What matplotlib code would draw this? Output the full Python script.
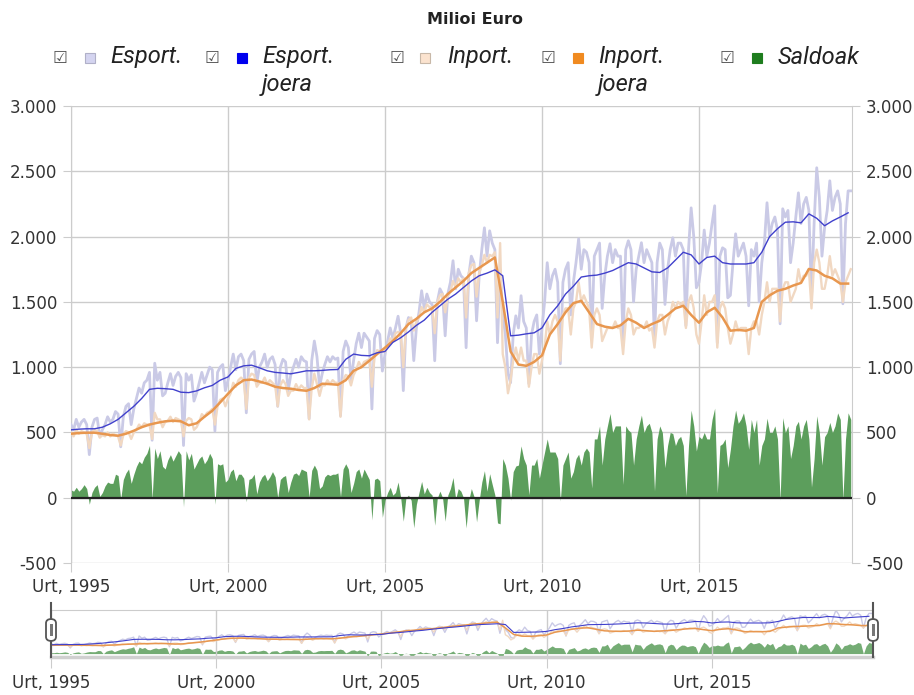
import numpy as np
import matplotlib.pyplot as plt
from matplotlib.lines import Line2D
from matplotlib.patches import FancyBboxPatch, Rectangle

# Monthly values, Jan 1995 .. Nov 2019 (million euro)
exports = [
    560, 520, 600, 540, 580, 600, 560, 330, 540, 600, 610, 470,
    520, 560, 620, 580, 600, 660, 640, 390, 620, 700, 720, 560,
    680, 760, 840, 800, 880, 900, 960, 440, 1030, 900, 960, 780,
    800, 880, 950, 860, 930, 960, 920, 400, 950, 900, 940, 740,
    800, 880, 960, 880, 940, 1000, 980, 510, 960, 1000, 1020, 820,
    900, 1000, 1100, 980, 1080, 1100, 1050, 650, 1060, 1100, 1120, 880,
    1000, 1040, 1100, 1000, 1060, 1080, 1020, 700, 1000, 1060, 1040, 820,
    940, 1000, 1060, 1000, 1080, 1050, 1040, 605, 1050, 1200, 1080, 850,
    950, 1020, 1080, 1040, 1080, 1060, 1070, 628, 1120, 1200, 1150, 900,
    1050, 1180, 1260, 1150, 1260, 1230, 1200, 680, 1220, 1280, 1250, 970,
    1100, 1200, 1300, 1220, 1300, 1390, 1260, 820, 1300, 1380, 1360, 1050,
    1300, 1420, 1585, 1450, 1560, 1500, 1480, 1049, 1500, 1600, 1560, 1240,
    1560, 1650, 1815, 1600, 1750, 1700, 1680, 1149, 1700, 1850, 1800, 1355,
    1700, 1900, 2067, 1850, 2044, 1950, 1900, 1187, 1750, 1400, 1250, 950,
    881, 1250, 1393, 1300, 1547, 1350, 1300, 873, 1250, 1350, 1400, 1100,
    1302, 1500, 1800, 1600, 1700, 1750, 1650, 1026, 1650, 1750, 1800, 1400,
    1650, 1800, 1983, 1750, 1900, 1880, 1800, 1225, 1850, 1900, 1950, 1450,
    1700, 1850, 1945, 1800, 1900, 1850, 1850, 1202, 1900, 1968, 1900, 1500,
    1750, 1850, 1953, 1800, 1900, 1850, 1800, 1202, 1800, 1950, 1900, 1480,
    1750, 1900, 1991, 1850, 1950, 1950, 1900, 1317, 1900, 2220, 2000, 1608,
    1650, 1800, 2050, 1850, 1950, 2100, 2236, 1187, 1850, 1914, 1900, 1531,
    1550, 1800, 2021, 1850, 1900, 1950, 1850, 1470, 1900, 1850, 1950, 1500,
    1800, 1950, 2259, 2000, 2100, 2150, 2050, 1332, 2213, 2150, 2200, 1800,
    1950, 2150, 2335, 2100, 2250, 2300, 2200, 1531, 2100, 2527, 2300, 1850,
    2067, 2200, 2427, 2200, 2300, 2350, 2250, 1485, 2100, 2350, 2350,
]
imports = [
    500, 470, 520, 490, 510, 500, 490, 380, 500, 520, 510, 460,
    480, 470, 500, 470, 490, 480, 470, 400, 480, 510, 500, 450,
    500, 520, 560, 540, 570, 560, 560, 450, 650, 600, 600, 540,
    580, 590, 620, 580, 610, 600, 590, 470, 590, 610, 600, 520,
    540, 580, 640, 620, 650, 660, 680, 560, 700, 750, 760, 700,
    760, 800, 880, 850, 900, 920, 900, 680, 920, 950, 940, 850,
    880, 880, 920, 870, 900, 880, 860, 700, 860, 900, 870, 780,
    820, 820, 870, 830, 860, 840, 840, 600, 840, 950, 870, 780,
    860, 860, 900, 870, 900, 880, 880, 620, 900, 940, 930, 860,
    940, 980, 1040, 1000, 1040, 1050, 1060, 850, 1080, 1130, 1120, 1120,
    1120, 1160, 1220, 1200, 1260, 1270, 1260, 1000, 1300, 1360, 1380, 1280,
    1350, 1380, 1460, 1420, 1480, 1460, 1460, 1260, 1500, 1550, 1560, 1420,
    1540, 1580, 1660, 1610, 1680, 1650, 1680, 1380, 1720, 1780, 1790, 1540,
    1720, 1780, 1860, 1800, 1860, 1850, 1880, 1380, 1950, 1100, 1000, 800,
    900, 1050, 1150, 1050, 1150, 1050, 1050, 850, 1000, 1100, 1100, 950,
    1050, 1150, 1350, 1250, 1350, 1400, 1350, 1050, 1400, 1450, 1450, 1250,
    1450, 1500, 1650, 1500, 1550, 1500, 1450, 1150, 1400, 1450, 1400, 1200,
    1250, 1300, 1300, 1300, 1350, 1300, 1300, 1100, 1350, 1450, 1400, 1250,
    1300, 1300, 1320, 1300, 1350, 1280, 1300, 1150, 1350, 1400, 1400, 1250,
    1350, 1400, 1500, 1450, 1500, 1480, 1500, 1300, 1500, 1550, 1450, 1250,
    1180, 1350, 1550, 1400, 1500, 1500, 1550, 1150, 1450, 1500, 1450, 1300,
    1180, 1250, 1350, 1280, 1300, 1300, 1300, 1100, 1300, 1350, 1350, 1250,
    1400, 1500, 1650, 1500, 1600, 1600, 1600, 1350, 1600, 1650, 1650, 1500,
    1550, 1600, 1750, 1650, 1700, 1700, 1750, 1450, 1800, 1900, 1800, 1600,
    1600, 1700, 1850, 1700, 1750, 1700, 1650, 1500, 1650, 1700, 1750,
]

# Trend ("joera"), read quarterly: Jan, Apr, Jul, Oct of each year
exports_trend = [
    520, 525, 528, 528, 540, 566, 600, 650, 700, 760, 830, 838,
    835, 830, 808, 805, 818, 842, 860, 900, 925, 990, 1010, 1015,
    995, 972, 960, 955, 949, 960, 972, 972, 975, 980, 982, 1060,
    1100, 1090, 1087, 1110, 1120, 1190, 1225, 1270, 1320, 1360, 1420, 1470,
    1520, 1560, 1610, 1660, 1700, 1720, 1745, 1700, 1240, 1245, 1255, 1263,
    1300, 1400, 1470, 1560, 1620, 1690, 1700, 1705, 1720, 1740, 1770, 1800,
    1790, 1760, 1730, 1725, 1760, 1820, 1880, 1860, 1790, 1840, 1850, 1800,
    1790, 1790, 1790, 1800, 1880, 2000, 2060, 2110, 2113, 2105, 2174, 2140,
    2083, 2120, 2150, 2182,
]
imports_trend = [
    490, 495, 498, 498, 490, 480, 475, 490, 513, 540, 560, 574,
    585, 590, 585, 555, 570, 620, 666, 730, 796, 860, 900, 905,
    890, 873, 850, 840, 835, 825, 819, 840, 873, 870, 865, 900,
    972, 1000, 1049, 1100, 1149, 1200, 1260, 1330, 1370, 1420, 1450, 1500,
    1560, 1610, 1660, 1720, 1760, 1800, 1840, 1500, 1120, 1020, 1010, 1040,
    1090, 1250, 1330, 1420, 1490, 1508, 1420, 1330, 1310, 1300, 1320, 1370,
    1340, 1300, 1330, 1355, 1400, 1450, 1470, 1400, 1340, 1420, 1455, 1380,
    1279, 1285, 1279, 1300, 1500, 1550, 1585, 1600, 1625, 1645, 1752, 1740,
    1700, 1680, 1640, 1640,
]

year_ticks = [1995, 2000, 2005, 2010, 2015]
year_labels = ["Urt, 1995", "Urt, 2000", "Urt, 2005", "Urt, 2010", "Urt, 2015"]
y_ticks = [-500, 0, 500, 1000, 1500, 2000, 2500, 3000]

exports = np.array(exports, dtype=float)
imports = np.array(imports, dtype=float)
balance = exports - imports
months = 1995 + np.arange(len(exports)) / 12
quarters = 1995 + np.arange(len(exports_trend)) / 4

C_EXP = "#cacae6"
C_EXP_T = "#4040cc"
C_IMP = "#f1d8c2"
C_IMP_T = "#e8974f"
C_BAL = "#5c9e5c"
GRID = "#cccccc"
TXT = "#333333"

W, H = 914, 695


def fx(px):
    return px / W


def fy(py):
    return 1 - py / H


fig = plt.figure(figsize=(W / 100, H / 100), dpi=100)

ax = fig.add_axes([fx(71), fy(563), fx(852) - fx(71), fy(106) - fy(563)])
ax.fill_between(months, 0, balance, color=C_BAL, lw=0, zorder=2)
ax.axhline(0, color="#222222", lw=1.6, zorder=3)
ax.plot(months, exports, color=C_EXP, lw=2.0, solid_joinstyle="round", zorder=4)
ax.plot(months, imports, color=C_IMP, lw=1.7, solid_joinstyle="round", zorder=4)
ax.plot(quarters, imports_trend, color=C_IMP_T, lw=1.8, solid_joinstyle="round", zorder=5)
ax.plot(quarters, exports_trend, color=C_EXP_T, lw=1.0, solid_joinstyle="round", zorder=6)

x_end = months[-1] + 0.04
ax.set_xlim(1995, x_end)
ax.set_ylim(-500, 3000)
ax.set_yticks(y_ticks)
ax.set_yticklabels([f"{v:,}".replace(",", ".") for v in y_ticks])
ax.set_xticks(year_ticks)
ax.set_xticklabels(year_labels)
ax.grid(True, color=GRID, lw=1, zorder=0)
for side in ["top", "bottom"]:
    ax.spines[side].set_visible(False)
for side in ["left", "right"]:
    ax.spines[side].set_color(GRID)
ax.tick_params(axis="y", length=6, color=GRID, labelcolor=TXT, labelsize=12, pad=4,
               right=True, labelright=True)
ax.tick_params(axis="x", length=6.5, color=GRID, labelcolor=TXT, labelsize=12, pad=4)

# navigator strip
nav = fig.add_axes([fx(51), fy(657), fx(873) - fx(51), fy(610) - fy(657)])
nav.fill_between(months, 0, balance, color=C_BAL, lw=0, alpha=0.85)
nav.plot(months, exports, color=C_EXP, lw=1.0)
nav.plot(months, imports, color=C_IMP, lw=1.0)
nav.plot(quarters, imports_trend, color=C_IMP_T, lw=1.1)
nav.plot(quarters, exports_trend, color=C_EXP_T, lw=0.8)
nav.set_xlim(1995, x_end)
nav.set_ylim(-200, 2550)
nav.set_yticks([])
nav.set_xticks(year_ticks)
nav.set_xticklabels(year_labels)
nav.grid(True, axis="x", color=GRID, lw=1)
nav.spines["left"].set_visible(False)
nav.spines["right"].set_visible(False)
nav.spines["top"].set_color(GRID)
nav.spines["bottom"].set_color("#d0d0d0")
nav.spines["bottom"].set_linewidth(2.5)
nav.tick_params(axis="x", length=8, color=GRID, labelcolor=TXT, labelsize=12, pad=4)

for hx in (51, 873):
    fig.add_artist(Line2D([fx(hx), fx(hx)], [fy(603), fy(657)], color="#555555", lw=1.5))
    fig.add_artist(FancyBboxPatch((fx(hx - 5), fy(641)), fx(10), fy(619) - fy(641),
                                  boxstyle="round,pad=0,rounding_size=0.006",
                                  transform=fig.transFigure, facecolor="white",
                                  edgecolor="#555555", lw=1.3, zorder=10))
    fig.add_artist(Rectangle((fx(hx - 1.5), fy(636)), fx(3), fy(624) - fy(636),
                             transform=fig.transFigure, facecolor="#777777",
                             edgecolor="none", zorder=11))

# header
fig.text(fx(475), fy(20), "Milioi Euro", ha="center", va="center",
         fontsize=11.5, fontweight="bold", color="#222222")

legend_items = [
    (60, 90, 110, "Esport.", "", "#d4d4f0", "#b0b0c8"),
    (212, 242, 262, "Esport.", "joera", "#0000ee", "#0000ee"),
    (397, 425, 447, "Inport.", "", "#fbe3cf", "#c8b8a8"),
    (548, 578, 598, "Inport.", "joera", "#f08a20", "#f08a20"),
    (727, 757, 778, "Saldoak", "", "#1e7d1e", "#1e7d1e"),
]
for cbx, sqx, tx, line1, line2, face, edge in legend_items:
    fig.text(fx(cbx), fy(58), "\u2611", ha="center", va="center",
             fontsize=12, color="#555555", family="DejaVu Sans")
    fig.add_artist(Line2D([fx(sqx)], [fy(58)], marker="s", ms=7,
                          markerfacecolor=face, markeredgecolor=edge, mew=0.8))
    fig.text(fx(tx), fy(57), line1, ha="left", va="center", fontsize=17,
             style="italic", family="Roboto", color="#222222")
    if line2:
        fig.text(fx(tx), fy(84), line2, ha="left", va="center", fontsize=17,
                 style="italic", family="Roboto", color="#222222")

fig.savefig("out.png", dpi=100)
